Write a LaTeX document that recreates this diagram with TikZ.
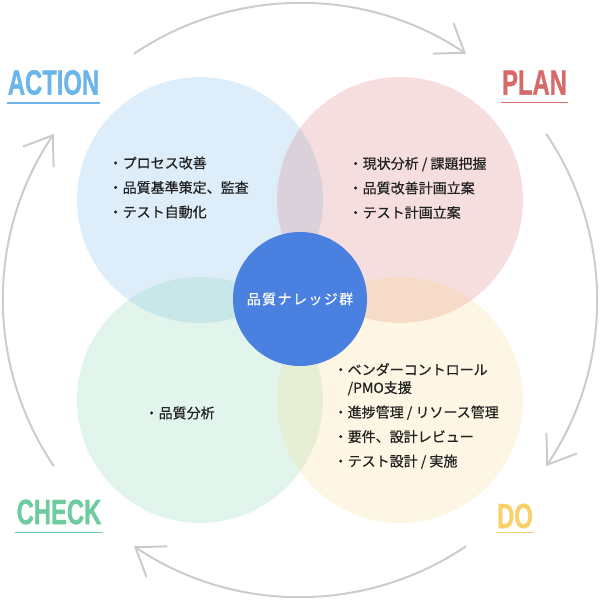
\documentclass[tikz,border=0pt]{standalone}
\usepackage{fontspec}
\setmainfont{Liberation Sans}
\newfontfamily\jp[FakeBold=0.6]{Noto Sans CJK JP}
\newfontfamily\stagefont[FakeBold=1.2]{Liberation Sans}
\usepackage{xcolor}
\usepackage{tikz}
\usetikzlibrary{arrows.meta,calc}
\definecolor{cact}{RGB}{107,181,234}
\definecolor{cplan}{RGB}{214,106,106}
\definecolor{cchk}{RGB}{109,203,158}
\definecolor{cdo}{RGB}{249,207,106}
\definecolor{ccore}{RGB}{74,128,224}
\definecolor{cring}{RGB}{204,204,204}
\definecolor{ctxt}{RGB}{34,34,34}
\tikzset{
  area/.style={circle, minimum size=246pt, inner sep=0pt},
  core/.style={circle, fill=ccore, minimum size=134pt, inner sep=0pt, text=white,
    font=\jp\fontsize{14}{14}\selectfont\addfontfeatures{LetterSpace=10}},
  stage/.style={font=\stagefont\bfseries\fontsize{35}{35}\selectfont, inner sep=0pt},
  rule/.style={line width=1.5pt},
  items/.style={font=\jp\fontsize{14}{24.5}\selectfont, align=left, anchor=west, inner sep=0pt, text=ctxt},
  cyc/.style={draw=cring, line width=2pt, -{Straight Barb[length=26pt,width=37pt]}}
}

\begin{document}
\begin{tikzpicture}[x=1pt, y=-1pt]
    \useasboundingbox (0,0) rectangle (600,600);

    % four areas
    \node [area, fill=cact, fill opacity=0.23] (act) at (200,200) {};
    \node [area, fill=cplan, fill opacity=0.22] (plan) at (400,200) {};
    \node [area, fill=cchk, fill opacity=0.2] (chk) at (200,400) {};
    \node [area, fill=cdo, fill opacity=0.18] (do) at (400,400) {};

    % center
    \node [core] (hub) at (300,299) {品質ナレッジ群};

    % cycle
    \coordinate (o) at (300,300);
    \coordinate (r1) at ($(o)+(-124:297)$);
    \coordinate (r2) at ($(o)+(-34:297)$);
    \coordinate (r3) at ($(o)+(56:297)$);
    \coordinate (r4) at ($(o)+(146:297)$);
    \draw [cyc] (r1) arc[start angle=-124, end angle=-56, radius=297];
    \draw [cyc] (r2) arc[start angle=-34, end angle=34, radius=297];
    \draw [cyc] (r3) arc[start angle=56, end angle=124, radius=297];
    \draw [cyc] (r4) arc[start angle=146, end angle=214, radius=297];

    % stage labels
    \node [stage, text=cact] (lact) at (53.5,82.5) {\scalebox{0.68}[1]{ACTION}};
    \node [stage, text=cplan] (lplan) at (534.5,82.5) {\scalebox{0.68}[1]{PLAN}};
    \node [stage, text=cchk] (lchk) at (59,512) {\scalebox{0.68}[1]{CHECK}};
    \node [stage, text=cdo] (ldo) at (515,516) {\scalebox{0.68}[1]{DO}};
    \draw [rule, cact] ([xshift=-1pt,yshift=-8pt]lact.south west) -- ([xshift=1pt,yshift=-8pt]lact.south east);
    \draw [rule, cplan] ([xshift=-1pt,yshift=-8pt]lplan.south west) -- ([xshift=1pt,yshift=-8pt]lplan.south east);
    \draw [rule, cchk] ([xshift=-1pt,yshift=-8pt]lchk.south west) -- ([xshift=1pt,yshift=-8pt]lchk.south east);
    \draw [rule, cdo] ([xshift=-1pt,yshift=-4pt]ldo.south west) -- ([xshift=1pt,yshift=-4pt]ldo.south east);

    % lists
    \node [items] (tact) at (108.5,187.5) {・プロセス改善\\・品質基準策定、監査\\・テスト自動化};
    \node [items] (tplan) at (348.5,188) {・現状分析 / 課題把握\\・品質改善計画立案\\・テスト計画立案};
    \node [items] (tchk) at (144.5,413) {・品質分析};
    \node [items] (tdo) at (333.5,416) {・ベンダーコントロール\\[-6.5pt]\hspace*{1em}/PMO支援\\・進捗管理 / リソース管理\\・要件、設計レビュー\\・テスト設計 / 実施};
\end{tikzpicture}
\end{document}
